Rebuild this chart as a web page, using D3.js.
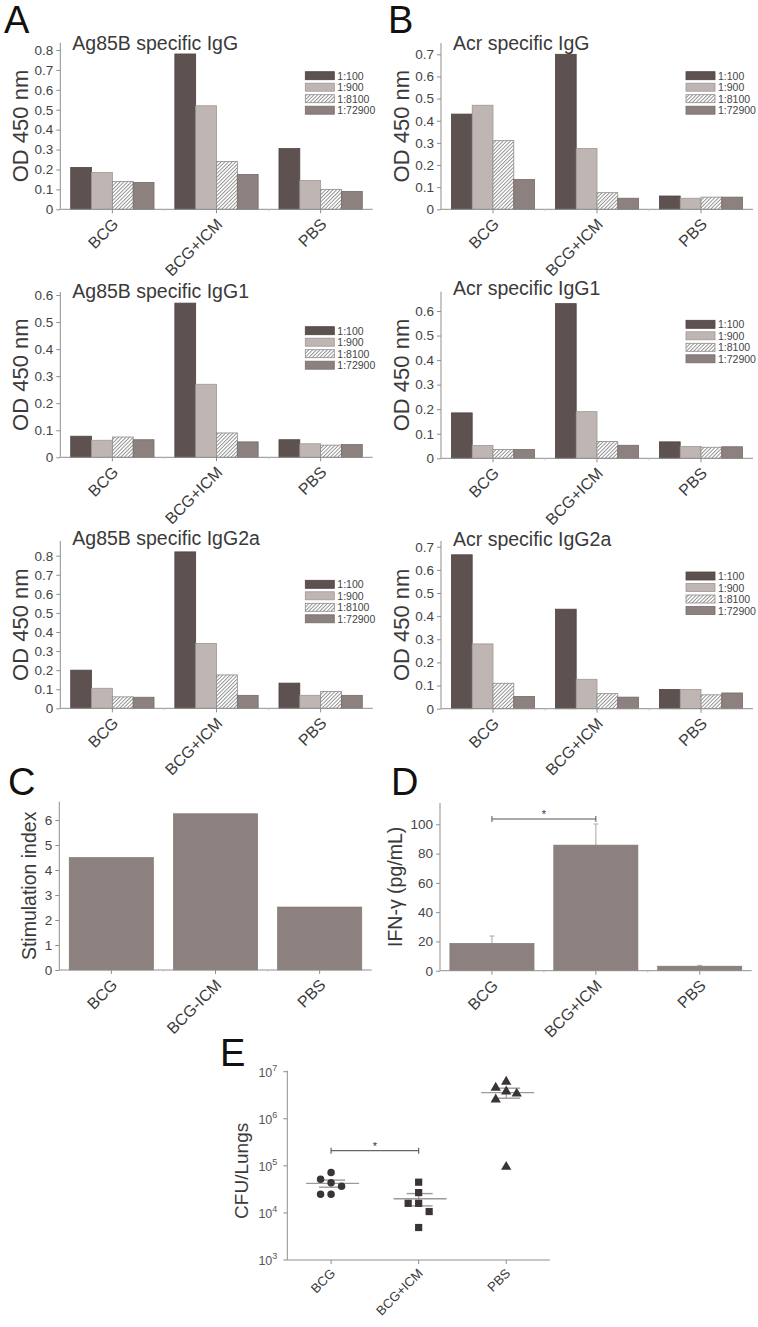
<!DOCTYPE html>
<html><head><meta charset="utf-8">
<script src="https://cdn.jsdelivr.net/npm/d3@7"></script>
<style>body{margin:0;background:#fff}svg{display:block}text{font-family:"Liberation Sans",Arial,sans-serif}</style>
</head><body>
<script>
// ---------- DATA ----------
const groups = ["BCG", "BCG+ICM", "PBS"];
const dilutions = ["1:100", "1:900", "1:8100", "1:72900"];
// rows = groups, columns = dilutions
const ag85bIgG   = [[0.21, 0.185, 0.14, 0.135], [0.78, 0.52, 0.24, 0.175], [0.305, 0.145, 0.10, 0.09]];
const acrIgG     = [[0.43, 0.47, 0.31, 0.135], [0.70, 0.275, 0.075, 0.05], [0.06, 0.05, 0.055, 0.055]];
const ag85bIgG1  = [[0.078, 0.063, 0.075, 0.065], [0.57, 0.27, 0.09, 0.057], [0.065, 0.05, 0.045, 0.047]];
const acrIgG1    = [[0.185, 0.052, 0.036, 0.036], [0.63, 0.19, 0.068, 0.053], [0.067, 0.048, 0.045, 0.047]];
const ag85bIgG2a = [[0.20, 0.105, 0.06, 0.058], [0.82, 0.34, 0.175, 0.068], [0.132, 0.068, 0.088, 0.068]];
const acrIgG2a   = [[0.665, 0.28, 0.11, 0.053], [0.43, 0.127, 0.065, 0.05], [0.083, 0.083, 0.06, 0.068]];
const odTicks8 = [0, 0.1, 0.2, 0.3, 0.4, 0.5, 0.6, 0.7, 0.8];
const odTicks7 = [0, 0.1, 0.2, 0.3, 0.4, 0.5, 0.6, 0.7];
const odTicks6 = [0, 0.1, 0.2, 0.3, 0.4, 0.5, 0.6];

const stimGroups = ["BCG", "BCG-ICM", "PBS"];
const stimIndex = [4.5, 6.25, 2.52];
const stimTicks = [0, 1, 2, 3, 4, 5, 6];

const ifnMean = [18.7, 85.8, 3.1];
const ifnErr = [5.0, 14.4, 0.5];
const ifnTicks = [0, 20, 40, 60, 80, 100];

const cfuBCG = [5.2e4, 3.7e4, 4.4e4, 7.2e4, 2.5e4, 2.5e4];
const cfuICM = [4.5e4, 2.7e4, 1.6e4, 1.6e4, 1.07e4, 4.9e3];
const cfuPBS = [4.8e6, 6.4e6, 3.6e6, 4.0e6, 2.7e6, 1.0e5];
const cfuTicks = [1e3, 1e4, 1e5, 1e6, 1e7];

// ---------- STYLE ----------
const barFill = ["#5e5250", "#bfb6b4", "url(#hatch)", "#8c817e"];
const barStroke = ["#4e4442", "#9f9694", "#8a8a8a", "#766b68"];
const axisCol = "#8f8f8f", textCol = "#3a3a3a";

const svg = d3.select("body").append("svg").attr("width", 758).attr("height", 1327);
svg.append("rect").attr("width", 758).attr("height", 1327).attr("fill", "#fff");
const defs = svg.append("defs");
const pat = defs.append("pattern").attr("id", "hatch").attr("patternUnits", "userSpaceOnUse")
  .attr("width", 2.6).attr("height", 2.6).attr("patternTransform", "rotate(45)");
pat.append("rect").attr("width", 2.6).attr("height", 2.6).attr("fill", "#fff");
pat.append("line").attr("x1", 0.5).attr("y1", 0).attr("x2", 0.5).attr("y2", 2.6)
  .attr("stroke", "#7a7a7a").attr("stroke-width", 0.8);

function panelLetter(t, x, y) {
  svg.append("text").attr("x", x).attr("y", y).text(t)
    .attr("font-family", "'Open Sans',sans-serif").attr("font-size", 38).attr("fill", "#111");
}

function yAxis(g, y, ticks, ax, zero, top, fmt, fs) {
  g.append("line").attr("x1", ax).attr("x2", ax).attr("y1", zero).attr("y2", top).attr("stroke", axisCol);
  const a = g.append("g").attr("transform", `translate(${ax},0)`)
    .call(d3.axisLeft(y).tickValues(ticks).tickSize(4).tickPadding(3).tickFormat(fmt));
  a.select(".domain").remove();
  a.selectAll(".tick line").attr("stroke", axisCol);
  a.selectAll(".tick text").attr("font-size", fs).attr("fill", "#444")
    .attr("font-family", "'Liberation Sans',Arial,sans-serif");
}

// diagonal (-45°) category label ending at (px,py)
function diagLabel(g, text, px, py, fs) {
  g.append("text").attr("transform", `translate(${px},${py}) rotate(-45)`)
    .attr("text-anchor", "end").attr("font-size", fs).attr("fill", textCol).text(text);
}

function xAxis(g, x0, cats, ax, xEnd, zero, fs, dx, dy) {
  g.append("line").attr("x1", ax).attr("x2", xEnd).attr("y1", zero).attr("y2", zero).attr("stroke", axisCol);
  const step = x0.step();
  cats.forEach((c, i) => {
    const cx = x0(c) + x0.bandwidth() / 2;
    g.append("line").attr("x1", cx).attr("x2", cx).attr("y1", zero).attr("y2", zero + 4).attr("stroke", axisCol);
    if (i > 0) {
      const bx = cx - step / 2;
      g.append("line").attr("x1", bx).attr("x2", bx).attr("y1", zero).attr("y2", zero + 2).attr("stroke", "#c8c8c8");
    }
    diagLabel(g, c, cx + dx, zero + dy, fs);
  });
}

function yLabel(g, text, x, yc, fs) {
  g.append("text").attr("transform", `translate(${x},${yc}) rotate(-90)`)
    .attr("text-anchor", "middle").attr("dominant-baseline", "central")
    .attr("font-size", fs).attr("fill", textCol).text(text);
}

const odFmt = d => d === 0 ? "0" : d3.format(".1f")(d);

function grouped(cfg) {
  const g = svg.append("g");
  const x0 = d3.scaleBand().domain(groups).range([cfg.ax, cfg.xEnd]).paddingInner(0.2).paddingOuter(0.1);
  const x1 = d3.scaleBand().domain(dilutions).range([0, x0.bandwidth()]);
  const y = d3.scaleLinear().domain([0, cfg.tmax]).range([cfg.zero, cfg.tmaxY]);
  groups.forEach((grp, gi) => {
    dilutions.forEach((dl, di) => {
      const v = cfg.data[gi][di];
      g.append("rect").attr("x", x0(grp) + x1(dl)).attr("width", x1.bandwidth())
        .attr("y", y(v)).attr("height", y(0) - y(v))
        .attr("fill", barFill[di]).attr("stroke", barStroke[di]).attr("stroke-width", 0.8);
    });
  });
  yAxis(g, y, cfg.ticks, cfg.ax, cfg.zero, cfg.top, odFmt, 13.5);
  xAxis(g, x0, groups, cfg.ax, cfg.xEnd, cfg.zero, 16, 7, 16);
  g.append("text").attr("x", cfg.ax + 12).attr("y", cfg.titleY).attr("font-size", 19.5)
    .attr("fill", textCol).text(cfg.title);
  yLabel(g, "OD 450 nm", cfg.ax - 40, (cfg.zero + cfg.top) / 2, 22);
  const lx = cfg.ax + 245;
  dilutions.forEach((dl, di) => {
    const ly = cfg.legY + di * 11.5;
    g.append("rect").attr("x", lx).attr("y", ly - 4).attr("width", 29).attr("height", 8)
      .attr("fill", barFill[di]).attr("stroke", barStroke[di]).attr("stroke-width", 0.8);
    g.append("text").attr("x", lx + 32).attr("y", ly).attr("dominant-baseline", "central")
      .attr("font-size", 10.5).attr("fill", "#444").text(dl);
  });
}

const L = {ax: 60.3, xEnd: 372.7}, R = {ax: 441, xEnd: 753};
grouped({...L, title: "Ag85B specific IgG", data: ag85bIgG, ticks: odTicks8, tmax: 0.8, zero: 209.3, tmaxY: 50, top: 42.7, titleY: 50, legY: 75.7});
grouped({...R, title: "Acr specific IgG", data: acrIgG, ticks: odTicks7, tmax: 0.7, zero: 209.3, tmaxY: 54.3, top: 43, titleY: 50, legY: 75.7});
grouped({...L, title: "Ag85B specific IgG1", data: ag85bIgG1, ticks: odTicks6, tmax: 0.6, zero: 457.3, tmaxY: 295, top: 292, titleY: 298, legY: 330.7});
grouped({...R, title: "Acr specific IgG1", data: acrIgG1, ticks: odTicks6, tmax: 0.6, zero: 458.3, tmaxY: 311, top: 291.7, titleY: 295, legY: 324.3});
grouped({...L, title: "Ag85B specific IgG2a", data: ag85bIgG2a, ticks: odTicks8, tmax: 0.8, zero: 708.3, tmaxY: 555.7, top: 541, titleY: 545, legY: 584.3});
grouped({...R, title: "Acr specific IgG2a", data: acrIgG2a, ticks: odTicks7, tmax: 0.7, zero: 708.7, tmaxY: 546.7, top: 541, titleY: 546, legY: 576});

// ---------- Panel C ----------
{
  const g = svg.append("g");
  const ax = 59.3, xEnd = 371.7, zero = 970, top = 801.7;
  const x = d3.scaleBand().domain(stimGroups).range([ax, xEnd]).paddingInner(0.19).paddingOuter(0.095);
  const y = d3.scaleLinear().domain([0, 6]).range([zero, 820]);
  stimGroups.forEach((c, i) => {
    g.append("rect").attr("x", x(c)).attr("width", x.bandwidth()).attr("y", y(stimIndex[i]))
      .attr("height", y(0) - y(stimIndex[i])).attr("fill", "#8c817e").attr("stroke", "#80756f").attr("stroke-width", 0.6);
  });
  yAxis(g, y, stimTicks, ax, zero, top, d3.format("d"), 13.5);
  xAxis(g, x, stimGroups, ax, xEnd, zero, 16, 7, 16);
  yLabel(g, "Stimulation index", 29, (zero + top) / 2, 19.5);
}

// ---------- Panel D ----------
{
  const g = svg.append("g");
  const ax = 440, xEnd = 751.7, zero = 970.7, top = 803;
  const x = d3.scaleBand().domain(groups).range([ax, xEnd]).paddingInner(0.19).paddingOuter(0.095);
  const y = d3.scaleLinear().domain([0, 100]).range([zero, 824.3]);
  groups.forEach((c, i) => {
    const cx = x(c) + x.bandwidth() / 2;
    g.append("line").attr("x1", cx).attr("x2", cx).attr("y1", y(ifnMean[i])).attr("y2", y(ifnMean[i] + ifnErr[i]))
      .attr("stroke", "#b5b5b5").attr("stroke-width", 1.2);
    g.append("line").attr("x1", cx - 2.5).attr("x2", cx + 2.5).attr("y1", y(ifnMean[i] + ifnErr[i])).attr("y2", y(ifnMean[i] + ifnErr[i]))
      .attr("stroke", "#b5b5b5").attr("stroke-width", 1.2);
    g.append("rect").attr("x", x(c)).attr("width", x.bandwidth()).attr("y", y(ifnMean[i]))
      .attr("height", y(0) - y(ifnMean[i])).attr("fill", "#8c817e").attr("stroke", "#80756f").attr("stroke-width", 0.6);
  });
  yAxis(g, y, ifnTicks, ax, zero, top, d3.format("d"), 13.5);
  xAxis(g, x, groups, ax, xEnd, zero, 16, 7, 16);
  yLabel(g, "IFN-γ (pg/mL)", 395, (zero + top) / 2, 19.5);
  const c1 = x(groups[0]) + x.bandwidth() / 2, c2 = x(groups[1]) + x.bandwidth() / 2, by = 819;
  g.append("path").attr("d", `M${c1},${by - 3}V${by + 3}M${c1},${by}H${c2}M${c2},${by - 3}V${by + 3}`)
    .attr("stroke", "#555").attr("stroke-width", 1).attr("fill", "none");
  g.append("text").attr("x", (c1 + c2) / 2).attr("y", by - 1).attr("text-anchor", "middle")
    .attr("font-size", 11).attr("fill", "#333").text("*");
}

// ---------- Panel E ----------
{
  const g = svg.append("g");
  const ax = 287.3, xEnd = 550, zero = 1260, top = 1071.7;
  const x = d3.scalePoint().domain(groups).range([ax, xEnd]).padding(0.5);
  const y = d3.scaleLog().domain([1e3, 1e7]).range([zero, top]);
  g.append("line").attr("x1", ax).attr("x2", ax).attr("y1", zero).attr("y2", top - 1).attr("stroke", axisCol);
  g.append("line").attr("x1", ax).attr("x2", xEnd).attr("y1", zero).attr("y2", zero).attr("stroke", axisCol);
  cfuTicks.forEach(t => {
    const yy = y(t);
    g.append("line").attr("x1", ax - 4).attr("x2", ax).attr("y1", yy).attr("y2", yy).attr("stroke", axisCol);
    const tx = g.append("text").attr("x", ax - 10).attr("y", yy + 5).attr("text-anchor", "end")
      .attr("font-size", 12.5).attr("fill", "#555");
    tx.append("tspan").text("10");
    tx.append("tspan").attr("dy", -6).attr("font-size", 9).text(Math.round(Math.log10(t)));
  });
  groups.forEach(c => {
    const cx = x(c);
    g.append("line").attr("x1", cx).attr("x2", cx).attr("y1", zero).attr("y2", zero + 4).attr("stroke", axisCol);
    diagLabel(g, c, cx + 5, zero + 14, 13);
  });
  yLabel(g, "CFU/Lungs", 241, (zero + top) / 2 + 5, 19);

  const series = [cfuBCG, cfuICM, cfuPBS];
  const shapes = [d3.symbolCircle, d3.symbolSquare, d3.symbolTriangle];
  const sizes = [44, 52, 46];
  const col = 10.5, minD = 9.5;
  series.forEach((vals, si) => {
    const cx = x(groups[si]);
    const m = d3.mean(vals), sem = d3.deviation(vals) / Math.sqrt(vals.length);
    g.append("line").attr("x1", cx - 25).attr("x2", cx + 28).attr("y1", y(m)).attr("y2", y(m))
      .attr("stroke", "#9a9a9a").attr("stroke-width", 1.4);
    [m - sem, m + sem].forEach(v => g.append("line").attr("x1", cx - 12).attr("x2", cx + 14)
      .attr("y1", y(v)).attr("y2", y(v)).attr("stroke", "#9a9a9a").attr("stroke-width", 1.4));
    g.append("line").attr("x1", cx).attr("x2", cx).attr("y1", y(m - sem)).attr("y2", y(m + sem))
      .attr("stroke", "#9a9a9a").attr("stroke-width", 1.2);
    const order = d3.range(vals.length).sort((a, b) => vals[b] - vals[a]);
    const placed = [];
    order.forEach(i => {
      const yy = y(vals[i]);
      let xx = 0;
      for (const k of [0, -1, 1, -2, 2, -3, 3]) {
        const px = k * col;
        if (placed.every(p => Math.hypot(p[0] - px, p[1] - yy) >= minD)) { xx = px; break; }
      }
      placed.push([xx, yy]);
      g.append("path").attr("d", d3.symbol(shapes[si], sizes[si])())
        .attr("transform", `translate(${cx + xx},${yy + (si === 2 ? 1 : 0)})`).attr("fill", "#3b3434");
    });
  });
  const c1 = x(groups[0]), c2 = x(groups[1]), by = 1150.7;
  g.append("path").attr("d", `M${c1},${by - 3}V${by + 3}M${c1},${by}H${c2}M${c2},${by - 3}V${by + 3}`)
    .attr("stroke", "#666").attr("stroke-width", 1.2).attr("fill", "none");
  g.append("text").attr("x", (c1 + c2) / 2).attr("y", by - 1).attr("text-anchor", "middle")
    .attr("font-size", 11).attr("fill", "#333").text("*");
}

panelLetter("A", 4, 33);
panelLetter("B", 388, 33);
panelLetter("C", 8, 795);
panelLetter("D", 391, 795);
panelLetter("E", 220, 1066);
</script>
</body></html>
